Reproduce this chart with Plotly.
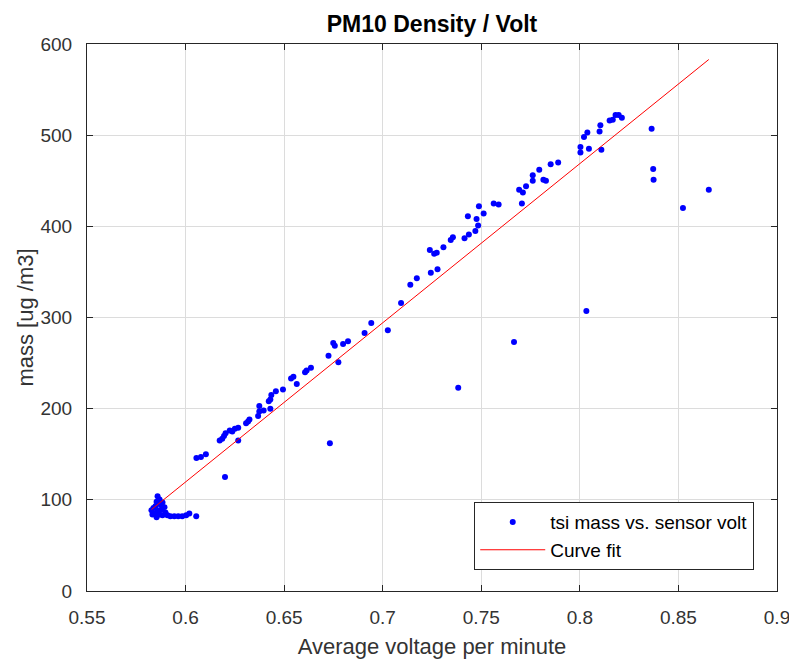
import plotly.graph_objects as go

# tsi mass vs. averaged sensor voltage
volt = [
    0.5827, 0.5842, 0.5853, 0.5858, 0.5868, 0.5873, 0.5883, 0.5893, 0.5847, 0.5837,
    0.5858, 0.5868, 0.5883, 0.5898, 0.5908, 0.5923, 0.5943, 0.5963, 0.5983, 0.6003,
    0.6019, 0.6054, 0.5832, 0.5853, 0.5878,
    0.6055, 0.6078, 0.6103, 0.6173, 0.6186, 0.6195, 0.6203, 0.6224, 0.6237, 0.6250,
    0.6267, 0.6267, 0.6307, 0.6317, 0.6324, 0.6368, 0.6374, 0.6374, 0.6396, 0.6422,
    0.6430, 0.6435, 0.6458, 0.6494, 0.6430, 0.6535, 0.6547, 0.6564, 0.6606, 0.6614,
    0.6636, 0.6732, 0.6725, 0.6775, 0.6200,
    0.6749, 0.6757, 0.6799, 0.6824, 0.6908, 0.6942, 0.7026, 0.7093, 0.7140, 0.7173,
    0.7244, 0.7278, 0.7239, 0.7261, 0.7274, 0.7308, 0.7345, 0.7356, 0.7415, 0.7437,
    0.7470, 0.7484, 0.7476, 0.7432, 0.7512, 0.7488, 0.7563, 0.7588,
    0.7692, 0.7711, 0.7706, 0.7727, 0.7761, 0.7761, 0.7794, 0.7815, 0.7828, 0.7852,
    0.7890, 0.8003, 0.8003, 0.8021, 0.8038, 0.8046, 0.8100, 0.8104, 0.8109, 0.8151,
    0.8167, 0.8181, 0.8197, 0.8213, 0.8364, 0.8372, 0.8374, 0.8523, 0.8654, 0.8033,
    0.7666, 0.7383,
]
mass = [
    88.5, 85, 98, 104, 100.5, 95, 97, 92, 93, 91,
    88.5, 84, 83, 86, 83, 82, 82, 82, 82, 83,
    85, 82, 84, 81, 89.5,
    146, 147, 150, 165, 167, 170, 173, 176, 175, 178,
    179, 165, 184, 186, 188, 192, 197, 203, 198, 208,
    210, 215, 219, 221, 200, 233, 235, 227, 240, 242,
    245, 162, 258, 251, 125,
    272, 269, 271, 274, 283, 294, 286, 316, 336, 343,
    349, 353, 374, 370, 371, 377, 385, 388, 387, 391,
    395, 401, 408, 411, 414, 422, 425, 424,
    440, 437, 425, 444, 450, 456, 462, 451, 450, 468,
    470, 481, 487, 498, 503, 485, 504, 511, 484, 516,
    517, 522, 522, 519, 507, 463, 451, 420, 440, 307,
    273, 223,
]

# linear curve fit  mass = p1*volt + p2
p1 = 1746.0
p2 = -928.0
fit_x = [min(volt), max(volt)]
fit_y = [p1 * v + p2 for v in fit_x]

x_ticks = [0.55, 0.6, 0.65, 0.7, 0.75, 0.8, 0.85, 0.9]
x_labels = ["0.55", "0.6", "0.65", "0.7", "0.75", "0.8", "0.85", "0.9"]
y_ticks = [0, 100, 200, 300, 400, 500, 600]

fnt = "Liberation Sans, Arial, Helvetica, sans-serif"

fig = go.Figure()
fig.add_trace(go.Scatter(
    x=volt, y=mass, mode="markers", name="tsi mass vs. sensor volt",
    marker=dict(color="#0000ff", size=6),
))
fig.add_trace(go.Scatter(
    x=fit_x, y=fit_y, mode="lines", name="Curve fit",
    line=dict(color="#ff0000", width=1),
))

axis_common = dict(
    showgrid=True, gridcolor="#dcdcdc", gridwidth=1,
    showline=True, linecolor="#262626", linewidth=1, mirror="ticks",
    ticks="inside", ticklen=6, tickcolor="#262626",
    zeroline=False, tickfont=dict(size=19, color="#333333", family=fnt),
)

# body margin is 8px, so the figure sits 8px in from the top-left
fig.update_layout(
    width=789, height=653,
    paper_bgcolor="white", plot_bgcolor="white",
    margin=dict(l=79, r=7, t=36, b=68),
    font=dict(family=fnt, color="#333333"),
    title=dict(text="<b>PM10 Density / Volt</b>", x=0.5, xref="paper", xanchor="center",
               y=1 - 16 / 653, yanchor="middle", font=dict(size=23, color="#000000")),
    xaxis=dict(range=[0.55, 0.9], tickvals=x_ticks, ticktext=x_labels,
               ticklabelstandoff=9, ticklabeloverflow="allow",
               title=dict(text="Average voltage per minute", font=dict(size=22), standoff=11),
               **axis_common),
    yaxis=dict(range=[0, 600], tickvals=y_ticks, ticklabelstandoff=10,
               title=dict(text="mass [ug /m3]", font=dict(size=22), standoff=0),
               **axis_common),
    legend=dict(x=0.967, y=0.038, xanchor="right", yanchor="bottom",
                bgcolor="white", bordercolor="#262626", borderwidth=1,
                font=dict(size=19, color="#000000"), itemwidth=65,
                tracegroupgap=0),
    showlegend=True,
)

fig.write_html("out.html")
